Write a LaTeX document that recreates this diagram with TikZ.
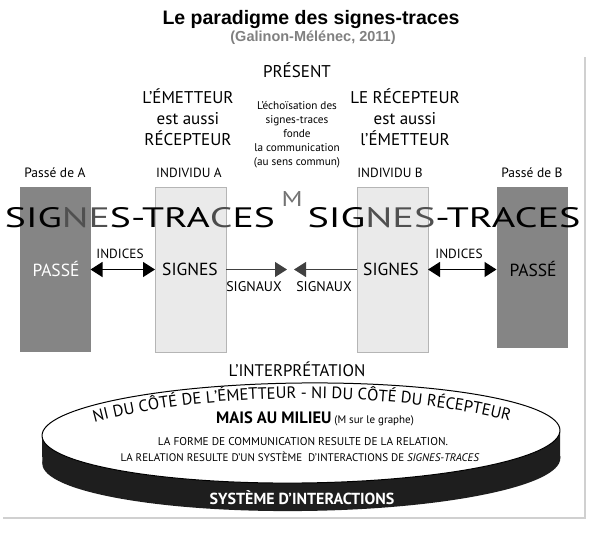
\documentclass[tikz,border=0pt]{standalone}
\usepackage{fontspec}
\setmainfont{PT Sans}
\newfontfamily\arialfont{Liberation Sans}
\usetikzlibrary{arrows.meta,decorations.text}
\definecolor{passe}{HTML}{858585}
\definecolor{indiv}{HTML}{EAEAEA}
\definecolor{indivline}{HTML}{B5B5B5}
\definecolor{frameline}{HTML}{D0D0D0}
\definecolor{bandcol}{HTML}{1E1E1E}
\definecolor{midgray}{HTML}{505050}
\begin{document}
\begin{tikzpicture}[x=1pt,y=1pt,
  every node/.style={inner sep=0pt,outer sep=0pt},
  txt/.style={font=\fontsize{#1}{#1}\selectfont,align=center},
  blocktxt/.style={font=\fontsize{17}{21}\selectfont,align=center},
  smalltxt/.style={font=\fontsize{11.2}{14}\selectfont,align=center},
  passebox/.style={fill=passe,minimum width=71pt,minimum height=#1},
  indivbox/.style={fill=indiv,draw=indivline,line width=0.6pt,minimum width=71pt,minimum height=165pt},
  dblarrow/.style={{Triangle[length=12pt,width=15pt]}-{Triangle[length=12pt,width=15pt]},line width=1.3pt},
  sigarrow/.style={-{Triangle[length=12pt,width=15pt]},line width=1.1pt,draw=black!75},
]
\useasboundingbox (0,0) rectangle (594,-536);
% frame lines
\coordinate (fr1) at (585,-57);
\coordinate (fr2) at (585,-518);
\coordinate (fr3) at (3,-518);
\draw[frameline,line width=1.5pt] (fr1) -- (fr2) -- (fr3);

% title
\node[font=\arialfont\bfseries\fontsize{19.5}{19.5}\selectfont] (title) at (311,-19) {Le paradigme des signes-traces};
\node[font=\arialfont\bfseries\fontsize{14.5}{14.5}\selectfont,text=black!50] (cite) at (313,-38) {(Galinon-Mélénec, 2011)};

% top texts
\node[txt=17] (present) at (297,-70) {PRÉSENT};
\node[blocktxt] (emet) at (188,-117) {L’ÉMETTEUR\\est aussi\\RÉCEPTEUR};
\node[smalltxt] (echo) at (297,-135) {L’échoïsation des\\signes-traces\\fonde\\la communication\\(au sens commun)};
\node[blocktxt] (recep) at (405,-117) {LE RÉCEPTEUR\\est aussi\\l’ÉMETTEUR};

\node[txt=13.5] (lpa) at (55,-173) {Passé de A};
\node[txt=13.3] (lia) at (189,-173) {INDIVIDU A};
\node[txt=13.3] (lib) at (390,-173) {INDIVIDU B};
\node[txt=13.5] (lpb) at (532,-173) {Passé de B};

% boxes
\node[passebox=165pt] (pa) at (55,-269.5) {};
\node[indivbox] (ia) at (190.5,-269.5) {};
\node[indivbox] (ib) at (392.5,-269.5) {};
\node[passebox=161pt] (pb) at (532,-267.5) {};

% big signes-traces
\node (st1) at (140,-218) {\resizebox{270pt}{20pt}{SIG\textcolor{midgray}{NE}S-TRA\textcolor{black!70}{C}ES}};
\node[text=black!55] (mm) at (292,-199) {\resizebox{21pt}{15pt}{M}};
\node (st2) at (444,-218) {\resizebox{273pt}{20pt}{SIG\textcolor{midgray}{NES}-TRACES}};

% row labels
\node[txt=17.5,text=white] (passa) at (56,-269) {PASSÉ};
\node[txt=17.5] (sga) at (190,-269) {SIGNES};
\node[txt=17.5] (sgb) at (391,-269) {SIGNES};
\node[txt=17.5] (passb) at (533,-269) {PASSÉ};
\node[txt=13.3] (inda) at (120,-254) {INDICES};
\node[txt=13.3] (indb) at (459,-254) {INDICES};
\node[txt=14] (siga) at (254,-287) {SIGNAUX};
\node[txt=14] (sigb) at (324,-287) {SIGNAUX};

% arrows
\coordinate (mid1) at (287,-269.5);
\coordinate (mid2) at (294,-269.5);
\draw[dblarrow] (pa.east) -- (ia.west);
\draw[dblarrow] (ib.east) -- (ib.east -| pb.west);
\draw[sigarrow] (ia.east) -- (mid1);
\draw[sigarrow] (ib.west) -- (mid2);

% interpretation
\node[txt=16.8] (interp) at (297,-369) {L’INTERPRÉTATION};

% disk
\begin{scope}[rotate around={0.6:(301,-433)}]
  \fill[bandcol] (301,-461) ellipse [x radius=259, y radius=50];
  \fill[bandcol] (42,-433) rectangle (560,-461);
  \draw[fill=white,line width=1pt] (301,-433) ellipse [x radius=259, y radius=50];
\end{scope}
\coordinate (arcA) at (58,-434);
\coordinate (arcB) at (546,-432);
\path[decorate,decoration={text along path,text align=center,
  text={|\fontsize{16.5}{16.5}\selectfont|NI DU CÔTÉ DE L’ÉMETTEUR - NI DU CÔTÉ DU RÉCEPTEUR}}]
  (arcA) .. controls (180,-387) and (420,-387) .. (arcB);
\node[anchor=base,font=\fontsize{11}{11}\selectfont] (milieu) at (315,-423)
  {{\bfseries\fontsize{16.5}{16.5}\selectfont MAIS AU MILIEU} (M sur le graphe)};
\node[txt=11.3] (forme) at (303,-442) {LA FORME DE COMMUNICATION RESULTE DE LA RELATION.};
\node[txt=11] (relation) at (300,-457) {LA RELATION RESULTE D’UN SYSTÈME \ D’INTERACTIONS DE \textit{SIGNES-TRACES}};
\node[text=white,font=\bfseries\fontsize{16}{16}\selectfont] (systeme) at (302,-498) {SYSTÈME D’INTERACTIONS};
\end{tikzpicture}
\end{document}
